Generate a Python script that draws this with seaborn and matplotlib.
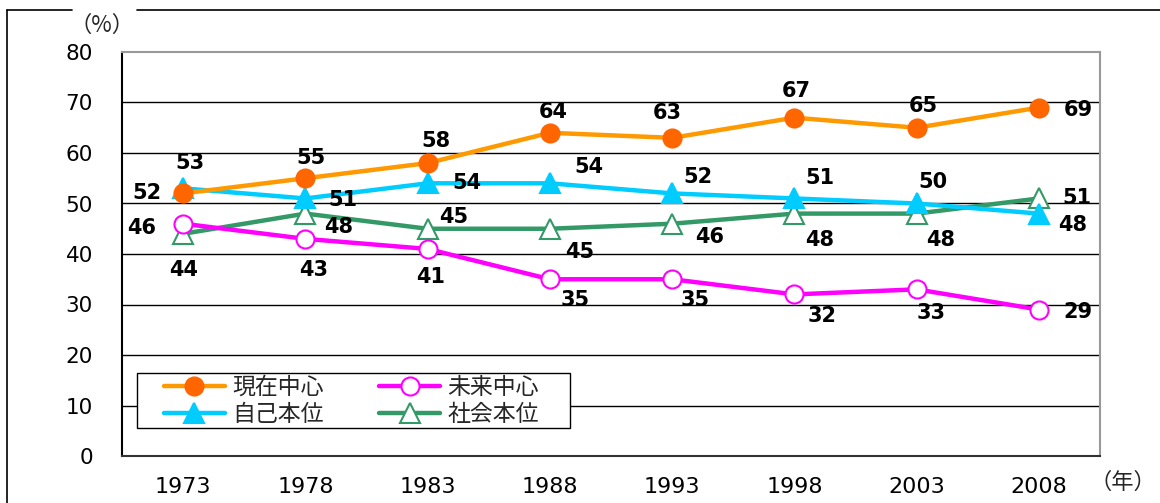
import matplotlib
matplotlib.use("Agg")
import matplotlib.pyplot as plt
from matplotlib.lines import Line2D
from matplotlib.patches import Rectangle
import seaborn as sns
import pandas as pd

# ---- data ----
years = ["1973", "1978", "1983", "1988", "1993", "1998", "2003", "2008"]
genzai = [52, 55, 58, 64, 63, 67, 65, 69]      # 現在中心
mirai = [46, 43, 41, 35, 35, 32, 33, 29]       # 未来中心
jiko = [53, 51, 54, 54, 52, 51, 50, 48]        # 自己本位
shakai = [44, 48, 45, 45, 46, 48, 48, 51]      # 社会本位
series_names = ["現在中心", "未来中心", "自己本位", "社会本位"]
y_ticks = [0, 10, 20, 30, 40, 50, 60, 70, 80]

# ---- styling / label offsets (pixels) ----
styles = {
    "現在中心": dict(color="#FF9900", marker="o", mfc="#FF6600", mec="#FF6600", ms=13),
    "未来中心": dict(color="#FF00FF", marker="o", mfc="white", mec="#FF00FF", ms=13),
    "自己本位": dict(color="#00CCFF", marker="^", mfc="#00CCFF", mec="#00CCFF", ms=14),
    "社会本位": dict(color="#339966", marker="^", mfc="white", mec="#339966", ms=14),
}
offsets = {
    "現在中心": [(-36, 0), (6, 20), (8, 22), (3, 21), (-5, 25), (2, 27), (7, 22), (39, -2)],
    "未来中心": [(-41, -4), (8, -31), (3, -28), (25, -21), (23, -21), (28, -22), (14, -24), (39, -2)],
    "自己本位": [(7, 25), (38, -2), (39, 0), (39, 16), (26, 16), (26, 20), (16, 21), (34, -11)],
    "社会本位": [(0, -36), (33, -13), (26, 12), (30, -23), (38, -13), (25, -26), (24, -26), (38, 0)],
}

sns.set_theme(style="white")
plt.rcParams["font.family"] = ["DejaVu Sans", "Noto Sans CJK JP"]
CJK = ["Noto Sans CJK JP", "DejaVu Sans"]

W, H = 1160, 503
fig = plt.figure(figsize=(W / 100, H / 100), dpi=100)
ax = fig.add_axes([122 / W, 1 - 456 / H, 978 / W, 404 / H])

values = {"現在中心": genzai, "未来中心": mirai, "自己本位": jiko, "社会本位": shakai}
df = pd.DataFrame({
    "year": years * 4,
    "value": genzai + mirai + jiko + shakai,
    "series": [s for s in series_names for _ in years],
})

draw_order = ["社会本位", "未来中心", "自己本位", "現在中心"]
handles = {}
for name in draw_order:
    st = styles[name]
    sub = df[df["series"] == name]
    sns.lineplot(data=sub, x="year", y="value", ax=ax, color=st["color"], lw=3.2,
                 marker=st["marker"], markersize=st["ms"], markerfacecolor=st["mfc"],
                 markeredgecolor=st["mec"], markeredgewidth=1.5, sort=False, zorder=3)
    handles[name] = Line2D([0], [0], color=st["color"], lw=3.2, marker=st["marker"],
                           markersize=st["ms"], markerfacecolor=st["mfc"],
                           markeredgecolor=st["mec"], markeredgewidth=1.5)
    for i, v in enumerate(values[name]):
        dx, dy = offsets[name][i]
        ax.annotate(str(v), (i, v), xytext=(dx, dy), textcoords="offset pixels",
                    ha="center", va="center", fontsize=15, fontweight="bold",
                    family="DejaVu Sans", color="black", zorder=5)

ax.set_xlim(-0.5, len(years) - 0.5)
ax.set_ylim(0, 80)
ax.set_yticks(y_ticks)
ax.set_yticklabels([str(t) for t in y_ticks], fontsize=15.5, color="black")
ax.set_xticks(range(len(years)))
ax.set_xticklabels(years, fontsize=16, color="black")
ax.set_xticks([i + 0.5 for i in range(len(years) - 1)], minor=True)
ax.tick_params(axis="x", which="major", length=0, pad=15)
ax.tick_params(axis="x", which="minor", direction="in", length=6, width=1, color="black")
ax.tick_params(axis="y", which="major", direction="in", length=8, width=1, pad=21, color="black")
ax.set_xlabel("")
ax.set_ylabel("")

ax.grid(False)
for yv in y_ticks[1:-1]:
    ax.axhline(yv, color="black", lw=1, zorder=1)

ax.spines["left"].set_color("black")
ax.spines["bottom"].set_color("#333333")
ax.spines["top"].set_color("#999999")
ax.spines["right"].set_color("#999999")
for s in ax.spines.values():
    s.set_linewidth(1.5)
    s.set_visible(True)

# legend frame box
box = Rectangle(((137 - 122) / 978, (456 - 428) / 404), 433 / 978, 55 / 404,
                transform=ax.transAxes, facecolor="white", edgecolor="black", lw=1, zorder=6)
ax.add_patch(box)
leg = ax.legend([handles["現在中心"], handles["自己本位"], handles["未来中心"], handles["社会本位"]],
                ["現在中心", "自己本位", "未来中心", "社会本位"],
                ncol=2, loc="center left",
                bbox_to_anchor=((164 - 122) / 978, (456 - 401) / 404),
                prop={"family": CJK, "size": 16.5}, handlelength=2.66, numpoints=1,
                frameon=False, borderpad=0, labelspacing=0.2,
                columnspacing=2.45, handletextpad=0.3, borderaxespad=0)
leg.set_zorder(7)

fig.text(102 / W, 1 - 25 / H, "（%）", fontsize=16, ha="center", va="center", family=CJK)
fig.text(1123 / W, 1 - 482 / H, "（年）", fontsize=16, ha="center", va="center", family=CJK)

# outer frame (with gap at top-left for unit label)
fig.add_artist(Line2D([7 / W, 7 / W], [0, 1 - 10 / H], color="black", lw=1.2, transform=fig.transFigure))
fig.add_artist(Line2D([7 / W, 72 / W], [1 - 10 / H, 1 - 10 / H], color="black", lw=1.2, transform=fig.transFigure))
fig.add_artist(Line2D([137 / W, 1], [1 - 10 / H, 1 - 10 / H], color="black", lw=1.2, transform=fig.transFigure))

fig.savefig("out.png", dpi=100)
